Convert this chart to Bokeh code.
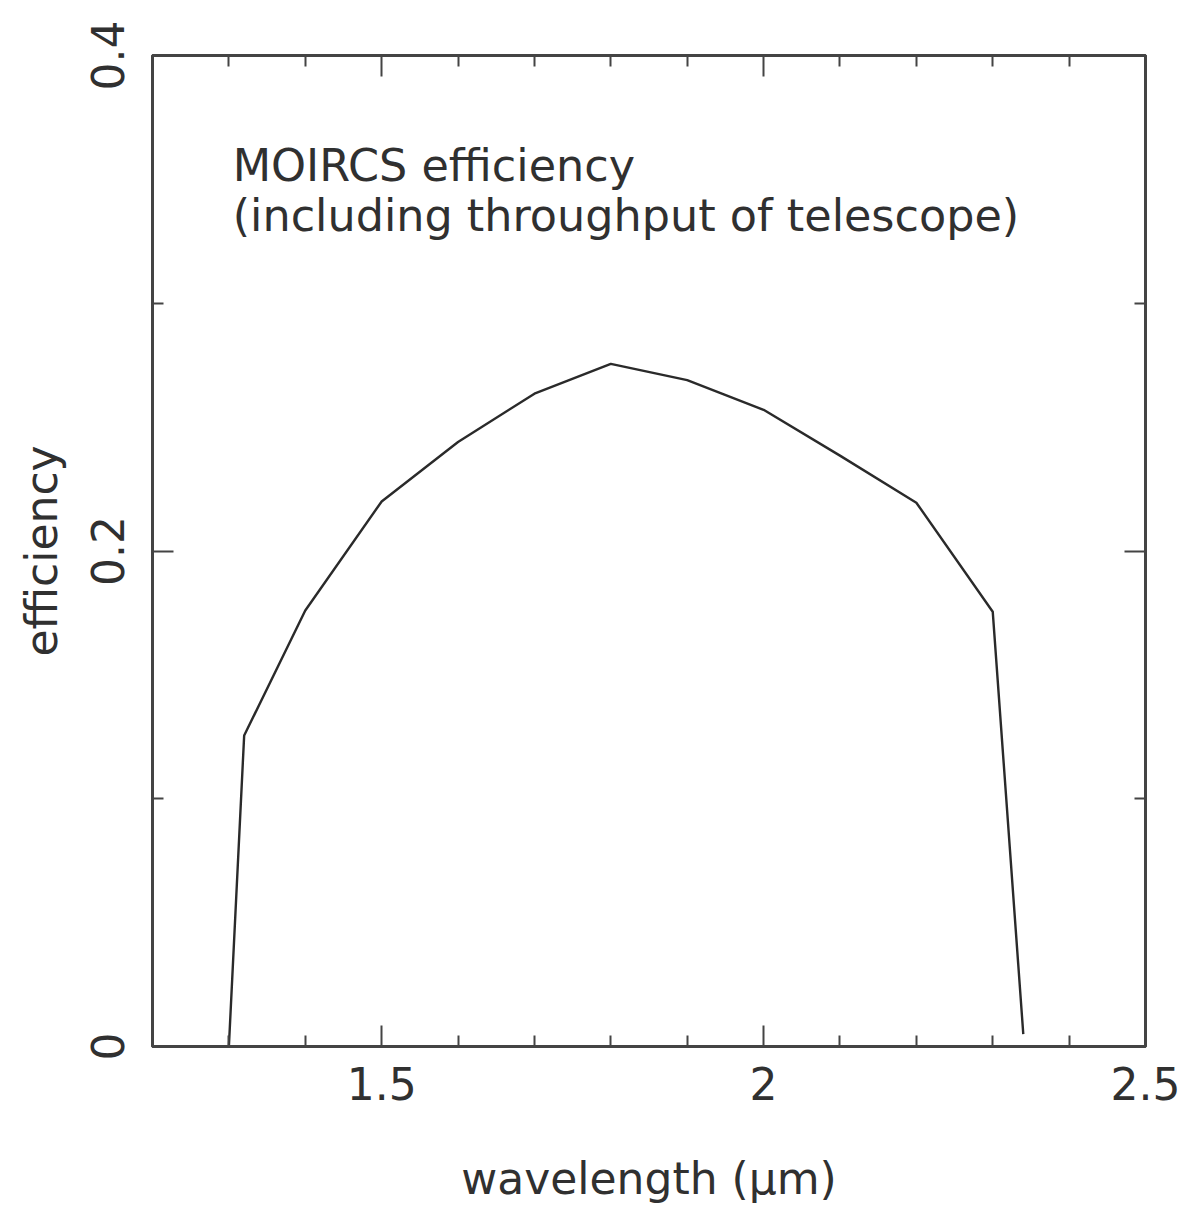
from bokeh.plotting import figure
from bokeh.models import LinearAxis, FixedTicker, Label, Range1d
from bokeh.embed import file_html
from bokeh.resources import INLINE

# MOIRCS efficiency curve (including telescope throughput)
wavelength = [1.30, 1.32, 1.40, 1.50, 1.60, 1.70, 1.80, 1.90, 2.00, 2.10, 2.20, 2.30, 2.34]
efficiency = [0.000, 0.1255, 0.176, 0.220, 0.244, 0.2635, 0.2755, 0.269, 0.257, 0.2385, 0.2195, 0.1755, 0.005]

x_ticks = [1.5, 2.0, 2.5]
x_tick_labels = ["1.5", "2", "2.5"]
x_minor_ticks = [1.3, 1.4, 1.6, 1.7, 1.8, 1.9, 2.1, 2.2, 2.3, 2.4]
y_ticks = [0.0, 0.2, 0.4]
y_tick_labels = ["0", "0.2", "0.4"]
y_minor_ticks = [0.1, 0.3]

title_lines = ["MOIRCS efficiency", "(including throughput of telescope)"]

FONT = "DejaVu Sans"
INK = "#303030"
FRAME = "#444444"

p = figure(width=1184, height=1207, output_backend="svg", toolbar_location=None,
           x_axis_location=None, y_axis_location=None,
           x_range=Range1d(1.2, 2.5), y_range=Range1d(0.0, 0.4),
           min_border_left=152, min_border_right=39, min_border_top=55, min_border_bottom=161)
p.background_fill_color = "white"
p.border_fill_color = "white"
p.outline_line_color = FRAME
p.outline_line_width = 3
p.xgrid.visible = False
p.ygrid.visible = False

xt = FixedTicker(ticks=x_ticks, minor_ticks=x_minor_ticks)
yt = FixedTicker(ticks=y_ticks, minor_ticks=y_minor_ticks)


def style_axis(ax, show_labels):
    ax.axis_line_color = FRAME
    ax.axis_line_width = 3
    ax.major_tick_in = 21
    ax.major_tick_out = 0
    ax.minor_tick_in = 11
    ax.minor_tick_out = 0
    ax.major_tick_line_color = FRAME
    ax.major_tick_line_width = 2
    ax.minor_tick_line_color = FRAME
    ax.minor_tick_line_width = 2
    ax.major_label_text_font = FONT
    ax.axis_label_text_font = FONT
    ax.axis_label_text_font_style = "normal"
    if show_labels:
        ax.major_label_text_color = INK
        ax.axis_label_text_color = INK
        ax.major_label_text_font_size = "44px"
        ax.axis_label_text_font_size = "44px"
    else:
        # frame-side ticks only, no numbers
        ax.major_label_text_color = None


bottom = LinearAxis(ticker=xt, axis_label="wavelength (\u03bcm)")
style_axis(bottom, True)
bottom.major_label_overrides = dict(zip(x_ticks, x_tick_labels))
bottom.major_label_standoff = 20
bottom.axis_label_standoff = 50
p.add_layout(bottom, "below")

left = LinearAxis(ticker=yt, axis_label="efficiency")
style_axis(left, True)
left.major_label_overrides = dict(zip(y_ticks, y_tick_labels))
left.major_label_orientation = "vertical"
left.major_label_standoff = 29
left.axis_label_standoff = 21
p.add_layout(left, "left")

top = LinearAxis(ticker=xt)
style_axis(top, False)
p.add_layout(top, "above")

right = LinearAxis(ticker=yt)
style_axis(right, False)
p.add_layout(right, "right")

p.line(wavelength, efficiency, line_color="#2a2a2a", line_width=2.4)

for i, line in enumerate(title_lines):
    p.add_layout(Label(x=1.305, y=0.3556 - 0.0202 * i, text=line,
                       text_font=FONT, text_font_size="44.5px", text_color=INK,
                       text_baseline="alphabetic", text_align="left"))

open("out.html", "w").write(file_html(p, INLINE))
